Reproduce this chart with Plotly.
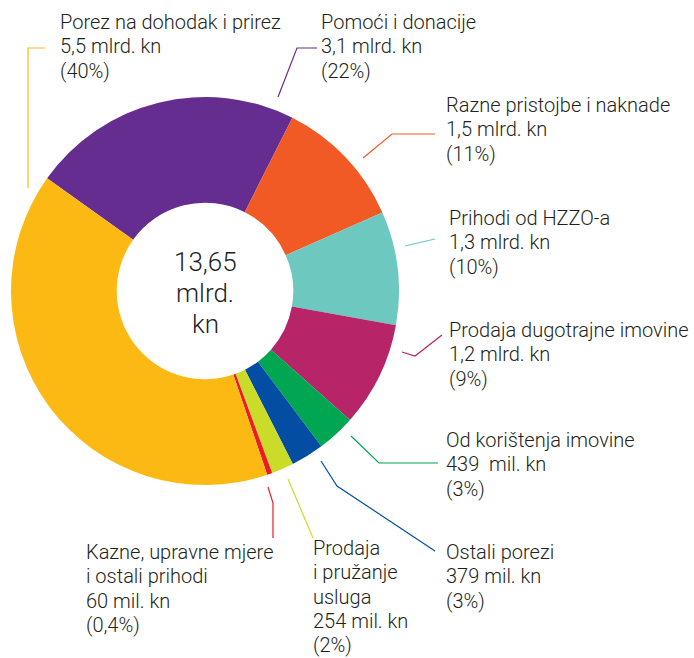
import plotly.graph_objects as go

W, H = 694, 658

# Revenue categories, clockwise from the purple slice
labels = [
    "Pomoći i donacije",
    "Razne pristojbe i naknade",
    "Prihodi od HZZO-a",
    "Prodaja dugotrajne imovine",
    "Od korištenja imovine",
    "Ostali porezi",
    "Prodaja i pružanje usluga",
    "Kazne, upravne mjere i ostali prihodi",
    "Porez na dohodak i prirez",
]
values_mlrd = [3.1, 1.5, 1.3, 1.2, 0.439, 0.379, 0.254, 0.06, 5.5]
amount_text = ["3,1 mlrd. kn", "1,5 mlrd. kn", "1,3 mlrd. kn", "1,2 mlrd. kn",
               "439  mil. kn", "379 mil. kn", "254 mil. kn", "60 mil. kn", "5,5 mlrd. kn"]
share_text = ["(22%)", "(11%)", "(10%)", "(9%)", "(3%)", "(3%)", "(2%)", "(0,4%)", "(40%)"]
label_lines = [
    ["Pomoći i donacije"],
    ["Razne pristojbe i naknade"],
    ["Prihodi od HZZO-a"],
    ["Prodaja dugotrajne imovine"],
    ["Od korištenja imovine"],
    ["Ostali porezi"],
    ["Prodaja", "i pružanje", "usluga"],
    ["Kazne, upravne mjere", "i ostali prihodi"],
    ["Porez na dohodak i prirez"],
]
colors = ["#662D91", "#F15A24", "#6DC8BF", "#B72467", "#00A651",
          "#034EA2", "#CADB2A", "#ED1C24", "#FDB913"]
total_lines = ["13,65", "mlrd.", "kn"]

# label block: left edge and centre of first line, in pixels
label_pos = [(319, 22), (444, 105), (447, 218), (447, 330),
             (444, 440), (444, 552), (311, 548), (84, 552), (58, 22)]
LINE_PITCH = 24.3

# leader lines in pixels
leaders = [
    [(278, 97), (297, 48), (317, 48)],
    [(363, 158), (392, 134), (435, 134)],
    [(405, 246), (435, 239)],
    [(402, 352), (415, 356), (442, 335)],
    [(351, 436), (379, 463), (438, 463)],
    [(321, 461), (337, 486), (435, 551)],
    [(288, 479), (313, 538)],
    [(268, 487), (273, 503), (273, 538)],
    [(28, 188), (28, 48), (45, 48)],
]

cx, cy, r = 205, 291, 194
FONT = "Roboto"
TEXT_COLOR = "#231F20"


def px(x):
    return x / W


def py(y):
    return 1 - y / H


fig = go.Figure(go.Pie(
    labels=labels,
    values=values_mlrd,
    sort=False,
    direction="clockwise",
    rotation=-54.5,
    hole=0.455,
    marker=dict(colors=colors, line=dict(width=0)),
    textinfo="none",
    hoverinfo="label+value",
    domain=dict(x=[px(cx - r), px(cx + r)], y=[py(cy + r), py(cy - r)]),
    showlegend=False,
))

annotations = []
for lines, amt, sh, (lx, ly) in zip(label_lines, amount_text, share_text, label_pos):
    for i, line in enumerate(lines + [amt, sh]):
        annotations.append(dict(
            x=px(lx), y=py(ly + i * LINE_PITCH), xref="paper", yref="paper",
            xanchor="left", yanchor="middle", align="left", showarrow=False,
            text=line,
            font=dict(family=FONT, size=20, color=TEXT_COLOR, weight=300),
        ))

for i, line in enumerate(total_lines):
    annotations.append(dict(
        x=px(cx), y=py(262 + i * 31), xref="paper", yref="paper",
        xanchor="center", yanchor="middle", showarrow=False,
        text=line,
        font=dict(family=FONT, size=26, color=TEXT_COLOR, weight=300),
    ))

shapes = []
for pts, col in zip(leaders, colors):
    path = "M " + " L ".join(f"{px(x)},{py(y)}" for x, y in pts)
    shapes.append(dict(type="path", xref="paper", yref="paper", path=path,
                       line=dict(color=col, width=1.2)))

fig.update_layout(
    width=W, height=H,
    margin=dict(l=0, r=0, t=0, b=0),
    paper_bgcolor="white",
    plot_bgcolor="white",
    annotations=annotations,
    shapes=shapes,
)

fig.write_html("out.html")
